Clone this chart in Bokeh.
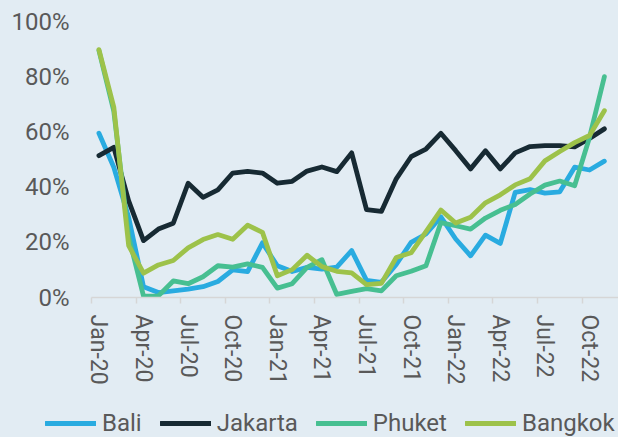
from bokeh.plotting import figure
from bokeh.layouts import column
from bokeh.models import (Range1d, FixedTicker, NumeralTickFormatter, Legend, LegendItem,
                          GlobalInlineStyleSheet)
from bokeh.embed import file_html
from bokeh.resources import INLINE

BG = "#e2ecf3"
TXT = "#595959"
FONT = "Roboto"

months = ["Jan-20", "Feb-20", "Mar-20", "Apr-20", "May-20", "Jun-20", "Jul-20", "Aug-20", "Sep-20",
          "Oct-20", "Nov-20", "Dec-20", "Jan-21", "Feb-21", "Mar-21", "Apr-21", "May-21", "Jun-21",
          "Jul-21", "Aug-21", "Sep-21", "Oct-21", "Nov-21", "Dec-21", "Jan-22", "Feb-22", "Mar-22",
          "Apr-22", "May-22", "Jun-22", "Jul-22", "Aug-22", "Sep-22", "Oct-22", "Nov-22"]

bali = [0.595, 0.472, 0.29, 0.039, 0.018, 0.024, 0.03, 0.039, 0.058, 0.10, 0.094, 0.198,
        0.115, 0.094, 0.109, 0.103, 0.11, 0.17, 0.062, 0.055, 0.12, 0.2, 0.23, 0.292,
        0.212, 0.151, 0.226, 0.196, 0.381, 0.391, 0.378, 0.383, 0.472, 0.462, 0.494]
jakarta = [0.514, 0.544, 0.35, 0.206, 0.248, 0.269, 0.414, 0.363, 0.39, 0.451, 0.457, 0.451,
           0.414, 0.421, 0.458, 0.473, 0.456, 0.524, 0.318, 0.312, 0.43, 0.51, 0.538, 0.595,
           0.532, 0.466, 0.532, 0.466, 0.524, 0.547, 0.55, 0.55, 0.546, 0.576, 0.611]
phuket = [0.895, 0.675, 0.22, 0.005, 0.006, 0.06, 0.05, 0.075, 0.115, 0.11, 0.122, 0.109,
          0.034, 0.05, 0.109, 0.137, 0.011, 0.022, 0.032, 0.024, 0.079, 0.095, 0.115, 0.271,
          0.26, 0.248, 0.288, 0.316, 0.337, 0.375, 0.407, 0.422, 0.405, 0.58, 0.8]
bangkok = [0.898, 0.69, 0.188, 0.088, 0.118, 0.134, 0.18, 0.21, 0.228, 0.211, 0.262, 0.236,
           0.079, 0.101, 0.153, 0.112, 0.095, 0.089, 0.047, 0.051, 0.145, 0.162, 0.239, 0.317,
           0.27, 0.291, 0.343, 0.372, 0.408, 0.43, 0.495, 0.529, 0.561, 0.587, 0.677]

series_names = ["Bali", "Jakarta", "Phuket", "Bangkok"]
series_values = [bali, jakarta, phuket, bangkok]
series_colors = ["#29abe0", "#172a33", "#47bf91", "#9dc24a"]

y_ticks = [0, 0.2, 0.4, 0.6, 0.8, 1.0]
x_label_every = 3

idx = list(range(len(months)))

LW = 4.8

p = figure(width=618, height=390, output_backend="svg", toolbar_location=None,
           x_range=Range1d(-0.5, 34.95), y_range=Range1d(0, 1.0),
           min_border_left=91, min_border_right=0, min_border_top=21, min_border_bottom=93)
p.frame_align = False
p.stylesheets = [GlobalInlineStyleSheet(css=f"html,body{{margin:0;padding:0;background:{BG};overflow:hidden;}}")]
p.background_fill_color = BG
p.border_fill_color = BG
p.outline_line_color = None
p.xgrid.visible = False
p.ygrid.visible = False

for name, vals, col in zip(series_names, series_values, series_colors):
    p.line(idx, vals, line_color=col, line_width=LW, line_cap="round", line_join="round")

# y axis
p.yaxis.ticker = FixedTicker(ticks=y_ticks)
p.yaxis.formatter = NumeralTickFormatter(format="0%")
p.yaxis.axis_line_color = None
p.yaxis.major_tick_line_color = None
p.yaxis.minor_tick_line_color = None
p.yaxis.major_tick_out = 0
p.yaxis.major_tick_in = 0
p.yaxis.major_label_standoff = 22
p.yaxis.major_label_text_font = FONT
p.yaxis.major_label_text_font_size = "24px"
p.yaxis.major_label_text_color = TXT

# x axis
centers = idx[::x_label_every]
bounds = [c - 0.5 for c in centers]
p.xaxis.ticker = FixedTicker(ticks=centers, minor_ticks=bounds)
p.xaxis.major_label_overrides = {c: months[c] for c in centers}
p.xaxis.major_label_orientation = "vertical"
p.xaxis.axis_line_color = "#d6d6d6"
p.xaxis.axis_line_width = 1.5
p.xaxis.major_tick_line_color = None
p.xaxis.major_tick_out = 0
p.xaxis.major_tick_in = 0
p.xaxis.minor_tick_line_color = "#d6d6d6"
p.xaxis.minor_tick_line_width = 1.5
p.xaxis.minor_tick_out = 6
p.xaxis.minor_tick_in = 0
p.xaxis.major_label_standoff = 11
p.xaxis.major_label_text_font = FONT
p.xaxis.major_label_text_font_size = "23px"
p.xaxis.major_label_text_color = TXT

# legend strip
lg = figure(width=618, height=47, output_backend="svg", toolbar_location=None,
            x_range=Range1d(0, 1), y_range=Range1d(0, 1), x_axis_type=None, y_axis_type=None,
            min_border_left=0, min_border_right=0, min_border_top=0, min_border_bottom=0)
lg.frame_align = False
lg.background_fill_color = BG
lg.border_fill_color = BG
lg.outline_line_color = None
lg.xgrid.visible = False
lg.ygrid.visible = False
items = []
for name, col in zip(series_names, series_colors):
    r = lg.line([float("nan")], [float("nan")], line_color=col, line_width=LW, line_cap="round")
    items.append(LegendItem(label=name, renderers=[r]))
legend = Legend(items=items, orientation="horizontal", location=(45, 0),
                glyph_width=51, glyph_height=20, label_standoff=6, spacing=18,
                padding=0, margin=0, border_line_color=None, background_fill_alpha=0,
                label_text_font=FONT, label_text_font_size="24px", label_text_color=TXT)
lg.add_layout(legend, "center")

layout = column(p, lg, spacing=0)
html = file_html(layout, INLINE)
open("out.html", "w").write(html)
